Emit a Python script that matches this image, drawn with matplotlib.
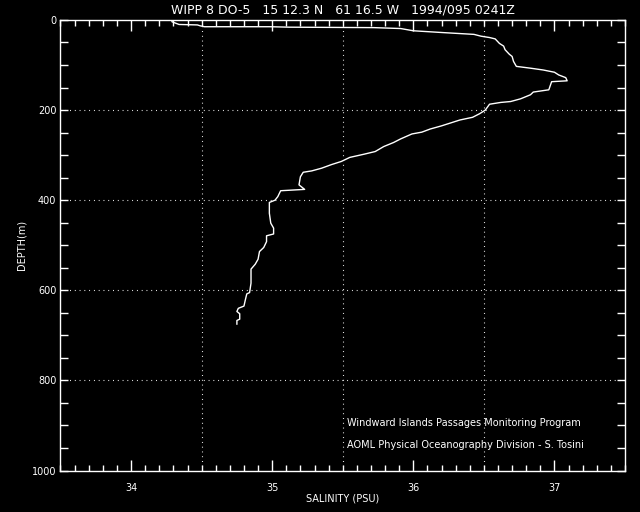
import matplotlib
matplotlib.use("Agg")
import matplotlib.pyplot as plt
from matplotlib.ticker import MultipleLocator, FixedLocator

salinity = [34.29, 34.29, 34.34, 34.47, 34.49, 34.52, 34.99, 35.12, 35.72, 35.91, 36.00,
            36.21, 36.43, 36.48, 36.54, 36.58, 36.61, 36.64, 36.65, 36.68, 36.70, 36.71,
            36.73, 36.83, 36.92, 37.00, 37.03, 37.08, 37.09, 36.98, 36.97, 36.96, 36.85,
            36.83, 36.76, 36.69, 36.62, 36.54, 36.51, 36.47, 36.42, 36.33, 36.26, 36.20,
            36.12, 36.06, 35.99, 35.91, 35.86, 35.79, 35.73, 35.65, 35.55, 35.49, 35.42,
            35.35, 35.28, 35.22, 35.20, 35.19, 35.23, 35.06, 35.04, 35.02, 34.98, 34.98,
            34.99, 35.01, 35.01, 34.96, 34.96, 34.94, 34.91, 34.90, 34.88,
            34.85, 34.85, 34.84, 34.82, 34.81, 34.80, 34.76, 34.75, 34.77, 34.77, 34.75,
            34.75]
depth = [0, 4, 10, 11, 13, 15, 15, 16, 17, 19, 24,
         28, 32, 36, 39, 42, 52, 58, 66, 76, 81, 92,
         103, 107, 111, 116, 122, 128, 135, 137, 146, 155, 160,
         166, 175, 181, 183, 187, 200, 208, 216, 222, 229, 235,
         242, 249, 253, 264, 272, 281, 292, 298, 305, 314, 321,
         329, 335, 338, 348, 366, 376, 379, 392, 400, 405, 429,
         451, 462, 475, 479, 492, 505, 514, 531, 542,
         553, 584, 605, 608, 621, 635, 640, 647, 652, 664, 667,
         675]

title = "WIPP 8 DO-5   15 12.3 N   61 16.5 W   1994/095 0241Z"
xlabel = "SALINITY (PSU)"
ylabel = "DEPTH(m)"
note1 = "Windward Islands Passages Monitoring Program"
note2 = "AOML Physical Oceanography Division - S. Tosini"
xticks = [34, 35, 36, 37]
yticks = [0, 200, 400, 600, 800, 1000]
xgrid = [34.5, 35.5, 36.5]
ygrid = [200, 400, 600, 800]

plt.rcParams['font.family'] = ['DejaVu Sans']
fig = plt.figure(figsize=(6.4, 5.12), dpi=100, facecolor='black')
ax = fig.add_axes([0.0945, 0.081, 0.8821, 0.880], facecolor='black')

ax.set_xlim(33.5, 37.5)
ax.set_ylim(1000, 0)

for gx in xgrid:
    ax.axvline(gx, color='white', lw=0.8, linestyle=(0, (0.8, 3.5)))
for gy in ygrid:
    ax.axhline(gy, color='white', lw=0.8, linestyle=(0, (0.8, 3.5)))

ax.plot(salinity, depth, color='white', lw=1.0, drawstyle='default')

for s in ax.spines.values():
    s.set_color('white')
    s.set_linewidth(1.0)

ax.xaxis.set_major_locator(FixedLocator(xticks))
ax.xaxis.set_minor_locator(MultipleLocator(0.1))
ax.yaxis.set_major_locator(FixedLocator(yticks))
ax.yaxis.set_minor_locator(MultipleLocator(50))
ax.tick_params(axis='x', which='major', direction='in', length=8, width=1,
               top=True, bottom=True, colors='white', labelsize=7, pad=9)
ax.tick_params(axis='x', which='minor', direction='in', length=4.5, width=1,
               top=True, bottom=True, colors='white')
ax.tick_params(axis='y', which='major', direction='in', length=6, width=1,
               left=True, right=True, colors='white', labelsize=7, pad=3)
ax.tick_params(axis='y', which='minor', direction='in', length=6, width=1,
               left=True, right=True, colors='white')
ax.set_xticklabels([str(v) for v in xticks])
ax.set_yticklabels([str(v) for v in yticks])

ax.set_title(title, color='white', fontsize=9, pad=5)
ax.set_xlabel(xlabel, color='white', fontsize=7, labelpad=0)
ax.set_ylabel(ylabel, color='white', fontsize=7, labelpad=4)

ax.text(35.53, 895, note1, color='white', fontsize=7, va='center', ha='left')
ax.text(35.53, 943, note2, color='white', fontsize=7, va='center', ha='left')

fig.savefig('out.png', dpi=100, facecolor='black')
